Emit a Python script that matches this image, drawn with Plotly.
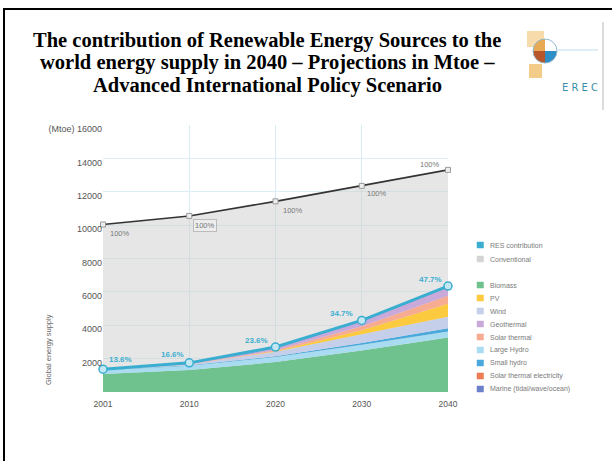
import numpy as np
import plotly.graph_objects as go

# ---------------- data ----------------
years = ["2001", "2010", "2020", "2030", "2040"]
total_supply = [10038, 10549, 11425, 12352, 13310]

biomass = [1080, 1313, 1791, 2483, 3271]
large_hydro = [223, 266, 309, 341, 358]
small_hydro = [10, 19, 49, 106, 189]
wind = [5, 44, 266, 542, 688]
pv = [0.2, 2, 24, 221, 784]
solar_thermal = [4, 15, 66, 244, 480]
geothermal = [43, 86, 186, 333, 493]
solar_thermal_elec = [0.1, 0.4, 3, 16, 68]
marine = [0.05, 0.1, 0.4, 3, 20]

res_share_labels = ["13.6%", "16.6%", "23.6%", "34.7%", "47.7%"]
total_share_labels = ["100%", "100%", "100%", "100%", "100%"]

y_tick_values = [2000, 4000, 6000, 8000, 10000, 12000, 14000, 16000]
y_tick_labels = ["2000", "4000", "6000", "8000", "10000", "12000", "14000", "(Mtoe) 16000"]

title_lines = [
    "The contribution of Renewable Energy Sources to the",
    "world energy supply in 2040 \u2013 Projections in Mtoe \u2013",
    "Advanced International Policy Scenario",
]

# stacking order (bottom -> top)
stack = [
    ("Biomass", biomass, "#6fc18d"),
    ("Large Hydro", large_hydro, "#a9dcf0"),
    ("Small hydro", small_hydro, "#4aa9dc"),
    ("Wind", wind, "#c6cfea"),
    ("PV", pv, "#fcca3e"),
    ("Solar thermal", solar_thermal, "#f7ab90"),
    ("Geothermal", geothermal, "#c9a9da"),
    ("Solar thermal electricity", solar_thermal_elec, "#f07a52"),
    ("Marine (tidal/wave/ocean)", marine, "#6b80c9"),
]
legend_order = ["Biomass", "PV", "Wind", "Geothermal", "Solar thermal",
                "Large Hydro", "Small hydro", "Solar thermal electricity",
                "Marine (tidal/wave/ocean)"]

res_total = np.sum([s[1] for s in stack], axis=0)

RES_BLUE = "#3aaed0"

# ---------------- geometry helpers ----------------
W, H = 612, 461
L, R, T, B = 103, 448, 125, 392


def PX(px):
    return (px - L) / (R - L)


def PY(py):
    return (B - py) / (B - T)


fig = go.Figure()

# conventional (grey) area under total
fig.add_trace(go.Scatter(
    x=years, y=total_supply, mode="lines", line=dict(width=0),
    fill="tozeroy", fillcolor="rgba(205,205,205,0.5)",
    hoverinfo="skip", showlegend=False, name="Conventional"))

# renewable stack
for name, vals, col in stack:
    fig.add_trace(go.Scatter(
        x=years, y=vals, mode="lines", name=name, stackgroup="res",
        line=dict(width=0, color=col), fillcolor=col, showlegend=False))

# RES contribution line
fig.add_trace(go.Scatter(
    x=years, y=res_total, mode="lines+markers", name="RES contribution",
    line=dict(color=RES_BLUE, width=3),
    marker=dict(symbol="circle", size=8, color="#c4e8f3",
                line=dict(color=RES_BLUE, width=1.5)),
    cliponaxis=False, showlegend=False))

# total supply line
fig.add_trace(go.Scatter(
    x=years, y=total_supply, mode="lines+markers", name="Total",
    line=dict(color="#333333", width=1.6),
    marker=dict(symbol="square", size=5, color="#eeeeee",
                line=dict(color="#999999", width=1)),
    cliponaxis=False, showlegend=False))

annotations = []

# title
for i, (line, py) in enumerate(zip(title_lines, [40, 62.5, 85])):
    annotations.append(dict(
        x=PX(267), y=PY(py), xref="paper", yref="paper", text="<b>" + line + "</b>",
        showarrow=False, xanchor="center", yanchor="middle",
        font=dict(family="Liberation Serif", size=20.5, color="#000000")))

# total labels (x given as category index)
tot_shifts = [(17, -9), (16, -10), (17, -9), (15, -8), (-18, 5)]
for i, (v, lab) in enumerate(zip(total_supply, total_share_labels)):
    dx, dy = tot_shifts[i]
    a = dict(x=i, y=v, xref="x", yref="y", text=lab, showarrow=False,
             xshift=dx, yshift=dy,
             font=dict(family="Liberation Sans", size=7.5, color="#777777"))
    if i == 1:
        a.update(bordercolor="#bbbbbb", borderwidth=1, borderpad=1,
                 bgcolor="rgba(255,255,255,0.3)")
    annotations.append(a)

# RES labels
res_shifts = [(17, 10), (-17, 8), (-19, 7), (-20, 7), (-18, 7)]
for i, (v, lab) in enumerate(zip(res_total, res_share_labels)):
    dx, dy = res_shifts[i]
    annotations.append(dict(
        x=i, y=float(v), xref="x", yref="y", text="<b>" + lab + "</b>",
        showarrow=False, xshift=dx, yshift=dy,
        font=dict(family="Liberation Sans", size=8, color=RES_BLUE)))

# y-axis title
annotations.append(dict(
    x=PX(48), y=PY(350), xref="paper", yref="paper", text="Global energy supply",
    textangle=-90, showarrow=False, xanchor="center", yanchor="middle",
    font=dict(family="Liberation Sans", size=7.5, color="#666666")))

shapes = []

# outer frame
shapes.append(dict(type="rect", xref="paper", yref="paper",
                   x0=PX(4), x1=PX(618), y0=PY(9), y1=PY(470),
                   line=dict(color="#000000", width=2), fillcolor="rgba(0,0,0,0)",
                   layer="above"))

# legend (manual, compact)
legend_items = [("RES contribution", RES_BLUE, 245), ("Conventional", "#d4d4d4", 259)]
col_of = {n: c for n, _, c in stack}
for j, n in enumerate(legend_order):
    legend_items.append((n, col_of[n], 285 + j * 13))

for name, col, py in legend_items:
    shapes.append(dict(type="rect", xref="paper", yref="paper",
                       x0=PX(477), x1=PX(483.5), y0=PY(py + 3), y1=PY(py - 3),
                       line=dict(color=col, width=0.5), fillcolor=col))
    annotations.append(dict(
        x=PX(488), y=PY(py), xref="paper", yref="paper", text=name,
        showarrow=False, xanchor="left", yanchor="middle",
        font=dict(family="Liberation Sans", size=7, color="#7a7a7a")))

# ---- EREC logo (decoration) ----
shapes.append(dict(type="rect", xref="paper", yref="paper",
                   x0=PX(527), x1=PX(544), y0=PY(47), y1=PY(31),
                   line=dict(width=0), fillcolor="rgba(240,190,100,0.55)"))
shapes.append(dict(type="line", xref="paper", yref="paper",
                   x0=PX(558), x1=PX(598), y0=PY(50), y1=PY(50),
                   line=dict(color="rgba(150,200,225,0.6)", width=1)))
shapes.append(dict(type="line", xref="paper", yref="paper",
                   x0=PX(603), x1=PX(603), y0=PY(22), y1=PY(110),
                   line=dict(color="rgba(150,150,150,0.45)", width=1.5)))
cx, cy, r = 545, 51, 12
quad_cols = [("#e8a955", 90, 180), ("#ffffff", 0, 90),
             ("#b8552b", 180, 270), ("#2e8fc8", 270, 360)]
for col, a0, a1 in quad_cols:
    ang = np.radians(np.linspace(a0, a1, 16))
    pts = [(cx, cy)] + [(cx + r * np.cos(t), cy - r * np.sin(t)) for t in ang]
    path = "M " + " L ".join(f"{PX(x):.5f},{PY(y):.5f}" for x, y in pts) + " Z"
    shapes.append(dict(type="path", xref="paper", yref="paper", path=path,
                       fillcolor=col, line=dict(width=0)))
shapes.append(dict(type="circle", xref="paper", yref="paper",
                   x0=PX(cx - r), x1=PX(cx + r), y0=PY(cy + r), y1=PY(cy - r),
                   line=dict(color="#8fb8cc", width=1), fillcolor="rgba(0,0,0,0)"))
shapes.append(dict(type="rect", xref="paper", yref="paper",
                   x0=PX(529), x1=PX(542), y0=PY(78), y1=PY(64),
                   line=dict(width=0), fillcolor="rgba(235,170,60,0.6)"))
annotations.append(dict(
    x=PX(600), y=PY(87), xref="paper", yref="paper", text="E R E C",
    showarrow=False, xanchor="right", yanchor="middle",
    font=dict(family="DejaVu Sans", size=10, color="#3a90a8")))

fig.update_layout(
    width=W, height=H,
    margin=dict(l=L, r=W - R, t=T, b=H - B, pad=0),
    paper_bgcolor="#ffffff", plot_bgcolor="#ffffff",
    showlegend=False,
    xaxis=dict(type="category", range=[0, 4], showgrid=True,
               gridcolor="#d6ecf2", gridwidth=1, zeroline=False, showline=False,
               ticks="", ticklabelstandoff=5,
               tickfont=dict(family="Liberation Sans", size=8.5, color="#555555")),
    yaxis=dict(range=[0, 16000], tickvals=y_tick_values, ticktext=y_tick_labels,
               showgrid=True, gridcolor="#dbeef4", gridwidth=1, zeroline=False,
               showline=False, ticks="", ticklabelshift=4,
               tickfont=dict(family="Liberation Sans", size=9, color="#555555")),
    annotations=annotations,
    shapes=shapes,
)

fig.write_html("out.html", config={"displayModeBar": False},
               post_script="document.body.style.margin='0px';")
